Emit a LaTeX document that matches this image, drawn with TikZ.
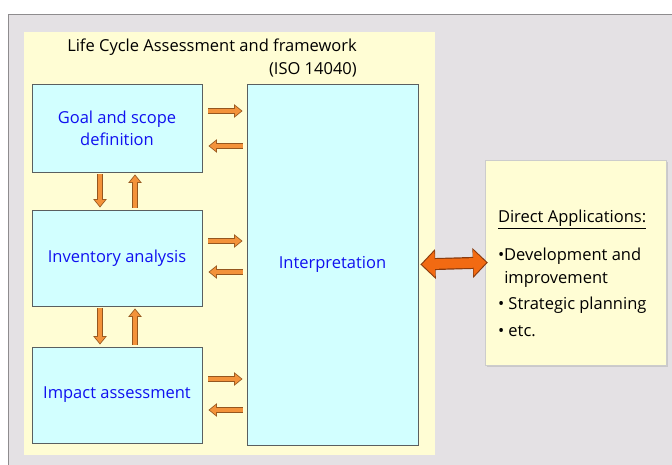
\documentclass[tikz,border=0pt]{standalone}
\usepackage{fontspec}
\setmainfont{Open Sans}
\usetikzlibrary{arrows.meta,shadows,calc}

\definecolor{panelgray}{HTML}{E4E1E4}
\definecolor{panelline}{HTML}{8E8C8E}
\definecolor{frameyellow}{HTML}{FFFDD4}
\definecolor{boxcyan}{HTML}{D2FFFF}
\definecolor{boxedge}{HTML}{5A5F60}
\definecolor{stageblue}{HTML}{1010F0}
\definecolor{arroworange}{HTML}{F3923A}
\definecolor{arrowedge}{HTML}{95561E}
\definecolor{bigorange}{HTML}{F26A12}
\definecolor{bigedge}{HTML}{8A3A0C}

\tikzset{
  stage/.style={draw=boxedge, fill=boxcyan, line width=0.8pt, text=stageblue,
    align=center, font=\fontsize{16.5}{22}\selectfont},
  flow/.style={draw=arrowedge, line width=6pt, -{Triangle[length=8.5pt,width=13pt]},
    postaction={draw=arroworange, line width=4pt, shorten >=1.3pt,
      -{Triangle[length=6.5pt,width=10pt]}}},
  bigflow/.style={draw=bigedge, line width=12pt,
    {Triangle[length=15pt,width=29pt]}-{Triangle[length=15pt,width=29pt]},
    postaction={draw=bigorange, line width=9.6pt, shorten >=1.6pt, shorten <=1.6pt,
      {Triangle[length=12.8pt,width=25pt]}-{Triangle[length=12.8pt,width=25pt]}}},
  plain/.style={font=\fontsize{16.5}{23}\selectfont, inner sep=0pt}
}

\begin{document}
\begin{tikzpicture}[x=1pt,y=1pt]
\useasboundingbox (0,0) rectangle (672,465);
\fill[white] (0,0) rectangle (672,465);
\draw[fill=panelgray, draw=panelline, line width=1pt] (8.5,-5) rectangle (680,450);
\fill[frameyellow] (24,10) rectangle (435,433);

\node[plain, align=right, anchor=east] (lca) at (357,406.5) {Life Cycle Assessment and framework\\(ISO 14040)};

\node[stage, minimum width=170pt, minimum height=88pt] (goal) at (117,337) {Goal and scope\\definition};
\node[stage, minimum width=170pt, minimum height=96pt] (inv) at (117,207) {Inventory analysis};
\node[stage, minimum width=170pt, minimum height=96pt] (impact) at (117,70) {Impact assessment};
\node[stage, minimum width=171pt, minimum height=361pt] (interp) at (332.5,200.5) {Interpretation};

\node[draw=gray!40, fill=frameyellow, minimum width=181pt, minimum height=205pt,
  drop shadow={shadow xshift=2pt, shadow yshift=-2pt, opacity=0.25}] (apps) at (575.5,202.5) {};
\node[plain, align=left, anchor=north west] (applist) at ($(apps.north west)+(13,-50)$)
  {\underline{Direct Applications:}\\[15pt]
   •Development and\\
   \hspace*{0.38em}improvement\\[3pt]
   • Strategic planning\\[4pt]
   • etc.};

\draw[flow] ($(goal.east)+(6,17)$) -- ($(goal.east -| interp.west)+(-4,17)$);
\draw[flow] ($(goal.east -| interp.west)+(-4,-18)$) -- ($(goal.east)+(6,-18)$);
\draw[flow] ($(inv.east)+(6,17)$) -- ($(inv.east -| interp.west)+(-4,17)$);
\draw[flow] ($(inv.east -| interp.west)+(-4,-14)$) -- ($(inv.east)+(6,-14)$);
\draw[flow] ($(impact.east)+(6,16)$) -- ($(impact.east -| interp.west)+(-4,16)$);
\draw[flow] ($(impact.east -| interp.west)+(-4,-15)$) -- ($(impact.east)+(6,-15)$);

\draw[flow] ($(goal.south)+(-17,-2)$) -- ($(inv.north)+(-17,2)$);
\draw[flow] ($(inv.north)+(18,2)$) -- ($(goal.south)+(18,-2)$);
\draw[flow] ($(inv.south)+(-17,-2)$) -- ($(impact.north)+(-17,2)$);
\draw[flow] ($(impact.north)+(18,2)$) -- ($(inv.south)+(18,-2)$);

\draw[bigflow] ($(interp.east)+(2,0)$) -- ($(apps.west)+(3,0)$);
\end{tikzpicture}
\end{document}
